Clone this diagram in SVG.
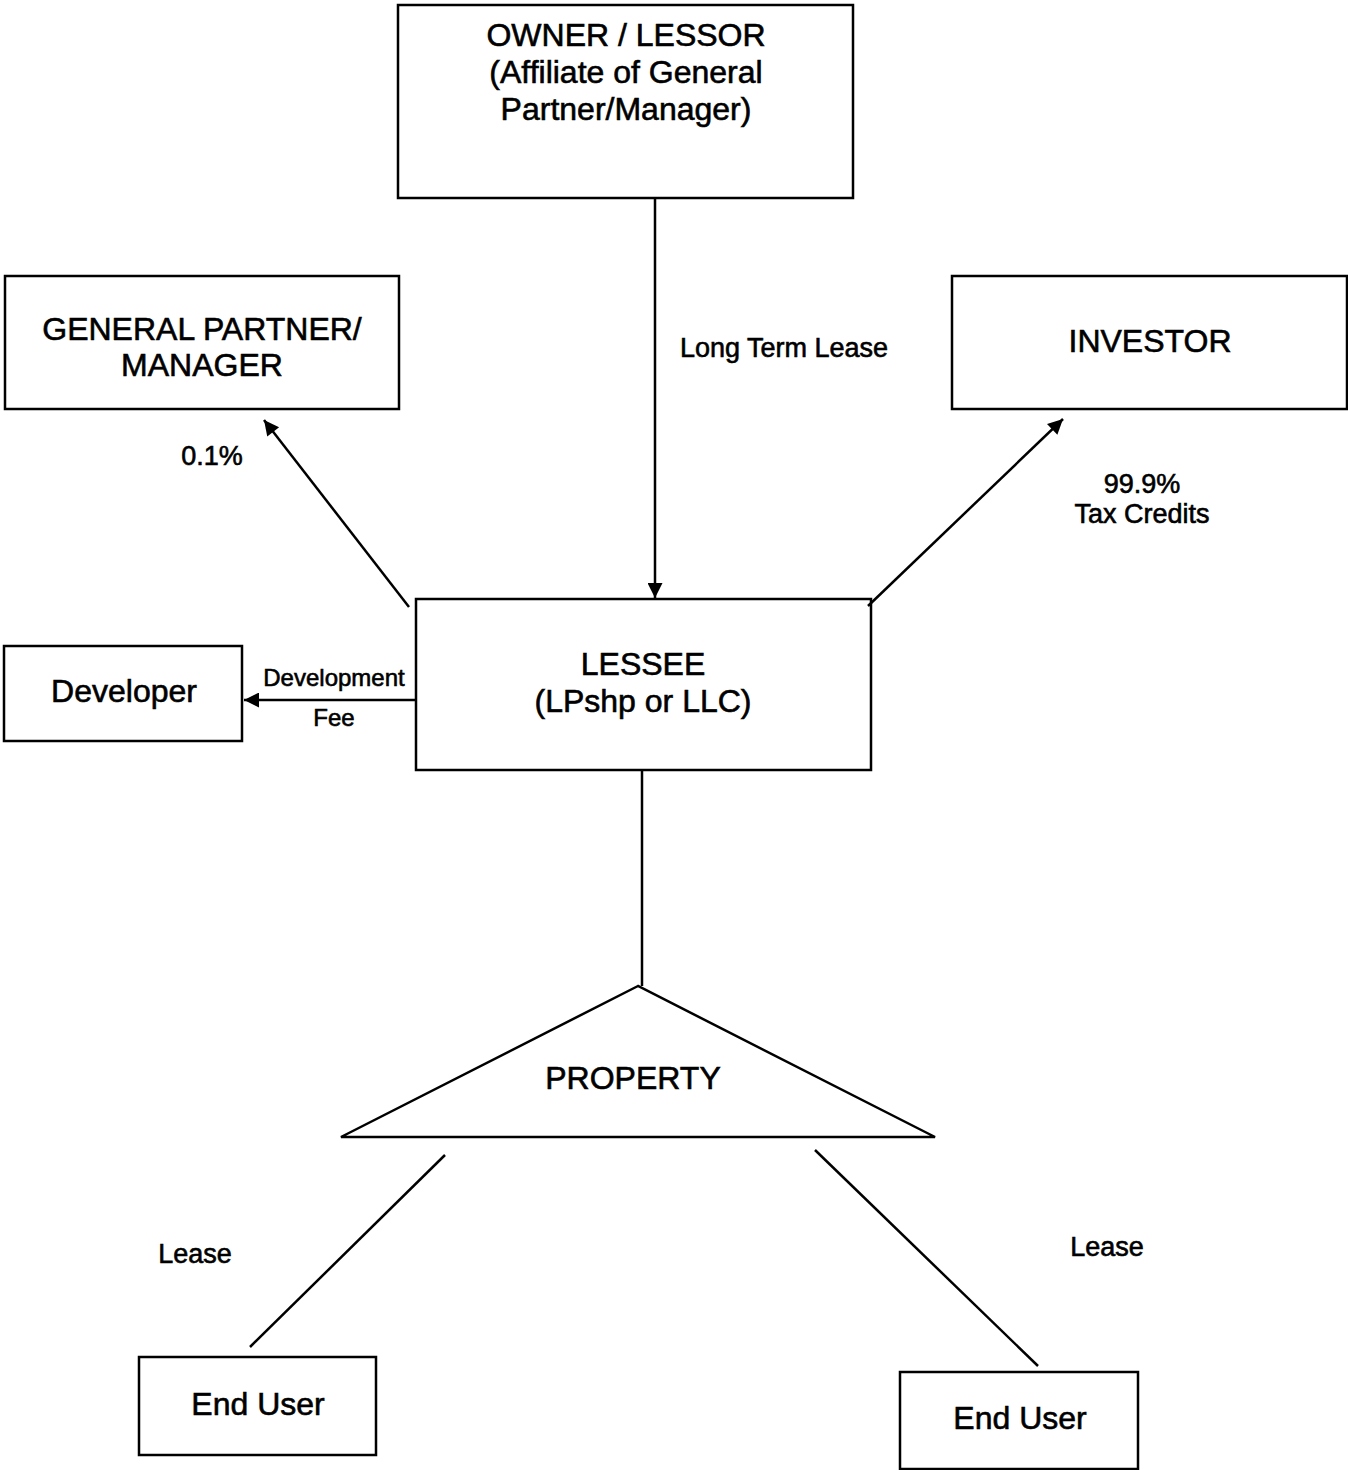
<svg xmlns="http://www.w3.org/2000/svg" width="1348" height="1470" viewBox="0 0 1348 1470">
<style>
.box{fill:none;stroke:#000;stroke-width:2.5}
.ln{fill:none;stroke:#000;stroke-width:2.5}
.t{font-family:"Liberation Sans",Arial,sans-serif;fill:#000;text-anchor:middle;stroke:#000;stroke-width:0.6}
.b{font-size:32px}
.m{font-size:27px}
.s{font-size:24px}
</style>
<defs>
<marker id="ah" viewBox="0 0 10 10" refX="10" refY="5" markerWidth="7" markerHeight="6" markerUnits="strokeWidth" orient="auto">
<path d="M0,0 L10,5 L0,10 Z" fill="#000"/>
</marker>
</defs>
<rect width="1348" height="1470" fill="#fff"/>
<g id="connectors">
<line class="ln" x1="655" y1="198" x2="655" y2="598" marker-end="url(#ah)"/>
<line class="ln" x1="409" y1="607" x2="264" y2="420" marker-end="url(#ah)"/>
<line class="ln" x1="868" y1="606" x2="1063" y2="419" marker-end="url(#ah)"/>
<line class="ln" x1="416" y1="700" x2="244" y2="700" marker-end="url(#ah)"/>
<line class="ln" x1="642" y1="770" x2="642" y2="986"/>
<line class="ln" x1="445" y1="1155" x2="250" y2="1347"/>
<line class="ln" x1="815" y1="1150" x2="1038" y2="1366"/>
<text class="t m" x="784" y="357">Long Term Lease</text>
<text class="t m" x="212" y="465">0.1%</text>
<text class="t m" x="1142" y="493">99.9%</text>
<text class="t m" x="1142" y="523">Tax Credits</text>
<text class="t s" x="334" y="686">Development</text>
<text class="t s" x="334" y="726">Fee</text>
<text class="t m" x="195" y="1263">Lease</text>
<text class="t m" x="1107" y="1256">Lease</text>
</g>
<g id="owner">
<rect class="box" x="398" y="5" width="455" height="193"/>
<text class="t b" x="626" y="46">OWNER / LESSOR</text>
<text class="t b" x="626" y="83">(Affiliate of General</text>
<text class="t b" x="626" y="120">Partner/Manager)</text>
</g>
<g id="gp">
<rect class="box" x="5" y="276" width="394" height="133"/>
<text class="t b" x="202" y="340">GENERAL PARTNER/</text>
<text class="t b" x="202" y="376">MANAGER</text>
</g>
<g id="investor">
<rect class="box" x="952" y="276" width="395" height="133"/>
<text class="t b" x="1150" y="352">INVESTOR</text>
</g>
<g id="lessee">
<rect class="box" x="416" y="599" width="455" height="171"/>
<text class="t b" x="643" y="675">LESSEE</text>
<text class="t b" x="643" y="712">(LPshp or LLC)</text>
</g>
<g id="developer">
<rect class="box" x="4" y="646" width="238" height="95"/>
<text class="t b" x="124" y="702">Developer</text>
</g>
<g id="property">
<polygon class="box" points="638,986 341,1137 935,1137"/>
<text class="t b" x="633" y="1089">PROPERTY</text>
</g>
<g id="enduser1">
<rect class="box" x="139" y="1357" width="237" height="98"/>
<text class="t b" x="258" y="1415">End User</text>
</g>
<g id="enduser2">
<rect class="box" x="900" y="1372" width="238" height="97"/>
<text class="t b" x="1020" y="1429">End User</text>
</g>
</svg>
